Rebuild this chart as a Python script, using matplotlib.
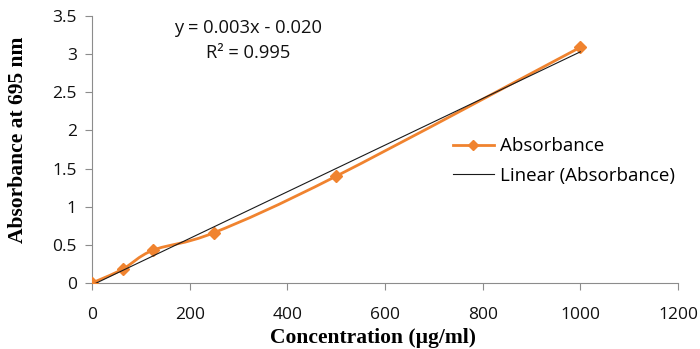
import numpy as np
import matplotlib
matplotlib.use("Agg")
import matplotlib.pyplot as plt
from matplotlib.path import Path
from matplotlib.patches import PathPatch
from matplotlib.lines import Line2D

# Data
concentration = [0, 62.5, 125, 250, 500, 1000]
absorbance = [0.0, 0.18, 0.43, 0.66, 1.40, 3.09]
x_ticks = [0, 200, 400, 600, 800, 1000, 1200]
y_ticks = [0, 0.5, 1, 1.5, 2, 2.5, 3, 3.5]
y_tick_labels = ["0", "0.5", "1", "1.5", "2", "2.5", "3", "3.5"]
equation_text = "y = 0.003x - 0.020"
r2_text = "R² = 0.995"

ORANGE = "#F0832F"
GRAY = "#8C8C8C"
TICKFONT = "Open Sans"

fig = plt.figure(figsize=(7.0, 3.49), dpi=100)
ax = fig.add_axes([92/700, (349-283)/349, (678-92)/700, (283-16)/349])
ax.set_xlim(0, 1200)
ax.set_ylim(0, 3.5)

# smoothed (Excel-like) line via Bezier path
xs = np.array(concentration, float)
ys = np.array(absorbance, float)
pts = np.column_stack([xs, ys])
n = len(pts)
verts = [pts[0]]
codes = [Path.MOVETO]
for i in range(n - 1):
    p0 = pts[i - 1] if i > 0 else pts[i]
    p1 = pts[i]
    p2 = pts[i + 1]
    p3 = pts[i + 2] if i + 2 < n else pts[i + 1]
    c1 = p1 + (p2 - p0) / 6.0
    c2 = p2 - (p3 - p1) / 6.0
    verts += [c1, c2, p2]
    codes += [Path.CURVE4] * 3
path = Path(verts, codes)
ax.add_patch(PathPatch(path, facecolor="none", edgecolor=ORANGE, lw=2.0, zorder=3))
ax.plot(concentration, absorbance, linestyle="none", marker="D", ms=6,
        color=ORANGE, zorder=4)

# linear trendline
slope, intercept = np.polyfit(xs, ys, 1)
tx = np.array([xs.min(), xs.max()])
ax.plot(tx, slope * tx + intercept, color="#1a1a1a", lw=0.8, zorder=5)

# axes styling
for s in ["top", "right"]:
    ax.spines[s].set_visible(False)
for s in ["left", "bottom"]:
    ax.spines[s].set_color(GRAY)
    ax.spines[s].set_linewidth(0.8)
ax.set_xticks(x_ticks)
ax.set_yticks(y_ticks)
ax.set_yticklabels(y_tick_labels)
ax.tick_params(axis="both", colors=GRAY, length=5, width=0.8, direction="out",
               labelcolor="#111111", labelsize=12.5)
ax.tick_params(axis="x", pad=12)
ax.tick_params(axis="y", pad=6)
for lab in ax.get_xticklabels() + ax.get_yticklabels():
    lab.set_fontfamily(TICKFONT)

ax.set_xlabel("Concentration (µg/ml)", fontfamily="Liberation Serif",
              fontweight="bold", fontsize=15.5)
ax.set_ylabel("Absorbance at 695 nm", fontfamily="Liberation Serif",
              fontweight="bold", fontsize=15.5)
ax.xaxis.set_label_coords((373-92)/586, (283-328)/267)
ax.yaxis.set_label_coords((28-92)/586, (283-140)/267)

ax.text(320, 3.34, equation_text, ha="center", va="center",
        fontfamily=TICKFONT, fontsize=13.2, color="#111111")
ax.text(320, 3.01, r2_text, ha="center", va="center",
        fontfamily=TICKFONT, fontsize=13.2, color="#111111")

handles = [
    Line2D([0], [0], color=ORANGE, lw=2, marker="D", ms=5),
    Line2D([0], [0], color="#1a1a1a", lw=0.8),
]
leg = ax.legend(handles, ["Absorbance", "Linear (Absorbance)"], frameon=False,
                loc="upper left", bbox_to_anchor=((445-92)/586, (283-130)/267),
                prop={"family": TICKFONT, "size": 13.5}, handlelength=2.2,
                handletextpad=0.35, labelspacing=0.6, borderaxespad=0.0)

fig.savefig("out.png", dpi=100)
